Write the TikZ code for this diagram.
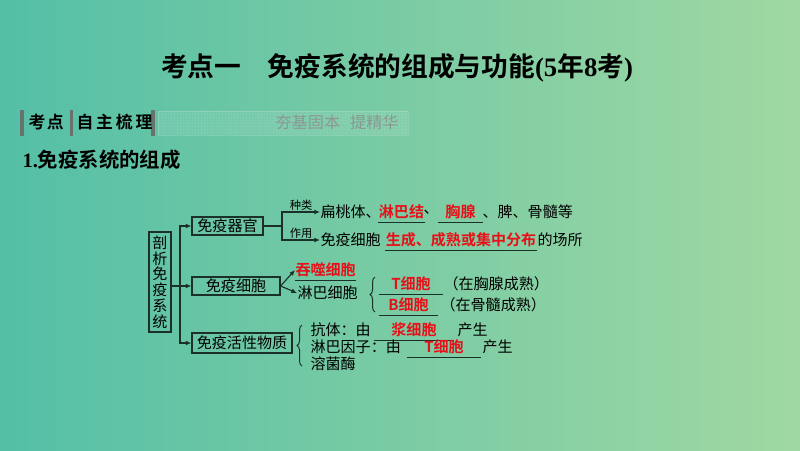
\documentclass[tikz,border=0pt]{standalone}
\usepackage{fontspec}
\setmainfont{Liberation Serif}
\newfontfamily\cjkfont{Noto Sans CJK SC}[BoldFont={Noto Sans CJK SC Bold}]
\usetikzlibrary{arrows.meta,decorations.pathreplacing}
\definecolor{bgleft}{RGB}{84,191,166}
\definecolor{bgright}{RGB}{160,216,162}
\definecolor{ansred}{RGB}{232,16,24}
\definecolor{boxline}{RGB}{26,48,40}
\definecolor{bargray}{RGB}{105,115,110}
\definecolor{mottogray}{RGB}{140,152,146}
\newcommand{\dgfont}{\cjkfont\fontsize{10.7}{12}\selectfont}

\begin{document}
\begin{tikzpicture}[x=0.025cm,y=-0.025cm,
  line width=0.8pt,
  box/.style={draw=boxline,inner sep=0pt,font=\dgfont},
  txt/.style={anchor=west,inner sep=0pt,font=\dgfont},
  blank/.style={inner xsep=0pt,inner ysep=2pt,text=ansred,font=\dgfont\bfseries,
    append after command={(\tikzlastnode.south west) edge[draw=boxline,line width=0.7pt] (\tikzlastnode.south east)}},
  tag/.style={font=\cjkfont\fontsize{8}{9}\selectfont,inner sep=1pt},
  arrow/.style={draw=boxline,-{Latex[length=4pt,width=3.5pt]}},
  brace/.style={draw=boxline,line width=0.7pt,decorate,decoration={brace,amplitude=3.5pt}}]

  % background
  \useasboundingbox (0,0) rectangle (800,450);
  \shade[left color=bgleft,right color=bgright] (0,0) rectangle (800,450);

  % title and banner
  \node[font=\bfseries\fontsize{19}{22}\selectfont] (title) at (397,68)
    {{\cjkfont 考点一　免疫系统的组成与功能}(5{\cjkfont 年}8{\cjkfont 考})};
  \fill[white,opacity=0.07] (158,111) rectangle (408,135);
  \draw[white,opacity=0.07,line width=0.2pt,step=0.075cm] (158,111) grid (408,135);
  \draw[white,opacity=0.15,line width=0.3pt] (158,111) rectangle (408,135);
  \fill[bargray] (20,110) rectangle (24,136);
  \fill[bargray] (70,110) rectangle (73,136);
  \fill[bargray] (151,110) rectangle (155,136);
  \node[anchor=west,inner sep=0pt,font=\cjkfont\bfseries\fontsize{12}{14}\selectfont] (kaodian) at (28,122) {考\hspace{1pt}点};
  \node[anchor=west,inner sep=0pt,font=\cjkfont\bfseries\fontsize{12}{14}\selectfont] (zizhu) at (76,122) {自\hspace{2pt}主\hspace{2pt}梳\hspace{2pt}理};
  \node[anchor=west,inner sep=0pt,text=mottogray,font=\cjkfont\fontsize{11.5}{13}\selectfont] (motto) at (275,122) {夯基固本\hspace{7pt}提精华};
  \node[anchor=west,inner sep=0pt,font=\bfseries\fontsize{14.5}{16}\selectfont] (sec) at (22,160) {1.{\cjkfont 免疫系统的组成}};

  % boxes
  \node[box,align=center,minimum width=0.55cm,minimum height=2.5cm,font=\cjkfont\fontsize{10.7}{11.2}\selectfont] (sys) at (160,282) {剖\\析\\免\\疫\\系\\统};
  \node[box,minimum width=1.775cm,minimum height=0.45cm] (organ) at (227.5,226) {免疫器官};
  \node[box,minimum width=2.2cm,minimum height=0.45cm] (cell) at (236,286) {免疫细胞};
  \node[box,minimum width=2.5cm,minimum height=0.5cm] (subst) at (242,343) {免疫活性物质};

  % organs
  \node[txt] (kind) at (320,212) {扁桃体、};
  \node[blank,minimum width=1.075cm] (node1) at (401.5,212) {淋巴结};
  \node[txt] (sep1) at (423,212) {、};
  \node[blank,minimum width=1.075cm] (thymus) at (460.5,212) {胸腺};
  \node[txt] (rest1) at (482,212) {、脾、骨髓等};
  \node[txt] (role) at (320,240) {免疫细胞};
  \node[blank,minimum width=3.75cm] (where) at (461,240) {生成、成熟或集中分布};
  \node[txt] (rest2) at (537,240) {的场所};

  % cells
  \node[blank,anchor=west] (phago) at (295,270) {吞噬细胞};
  \node[txt] (lymph) at (297,293) {淋巴细胞};
  \node[blank,minimum width=1.55cm] (tcell) at (411,284) {T细胞};
  \node[txt] (thy) at (443,284) {（在胸腺成熟）};
  \node[blank,minimum width=1.425cm] (bcell) at (408.5,305) {B细胞};
  \node[txt] (marrow) at (440,305) {（在骨髓成熟）};

  % active substances
  \node[txt] (ab) at (310,330) {抗体：由};
  \node[blank,minimum width=1.95cm] (plasma) at (414,330) {浆细胞};
  \node[txt] (ab2) at (457,330) {产生};
  \node[txt] (lf) at (310,347) {淋巴因子：由};
  \node[blank,minimum width=1.8cm] (tcell2) at (444,347) {T细胞};
  \node[txt] (lf2) at (482,347) {产生};
  \node[txt] (lyso) at (310,364) {溶菌酶};

  % connectors
  \coordinate (j) at (180,286);
  \coordinate (k) at (282,226);
  \draw[arrow] (sys.east |- cell) -- (cell.west);
  \draw[arrow] (j) |- (organ.west);
  \draw[arrow] (j) |- (subst.west);
  \draw[draw=boxline] (organ.east) -- (k);
  \draw[arrow] (k) |- (kind.west) node[tag,above,pos=0.75] {种类};
  \draw[arrow] (k) |- (role.west) node[tag,above,pos=0.75] {作用};
  \draw[arrow] (cell.east) -- (phago.west);
  \draw[arrow] (cell.east) -- (lymph.west);
  \draw[brace] (375,312) -- (375,277);
  \draw[brace] (302,366) -- (302,325);
\end{tikzpicture}
\end{document}
